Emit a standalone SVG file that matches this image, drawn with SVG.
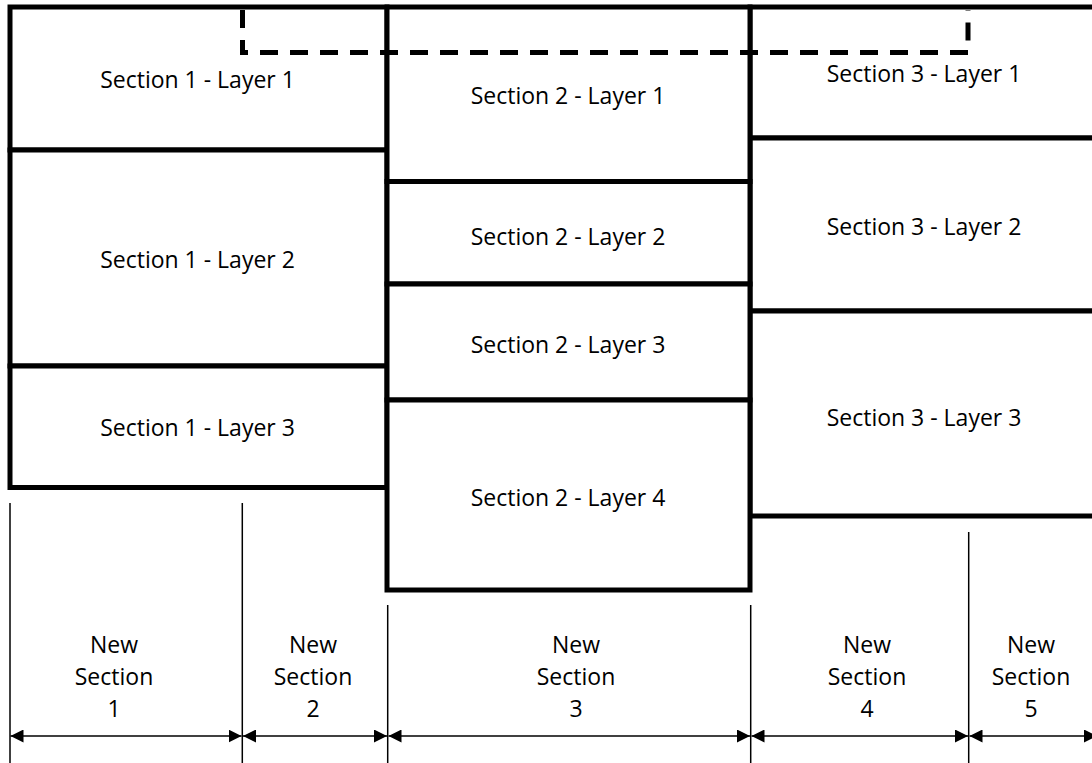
<svg xmlns="http://www.w3.org/2000/svg" width="1092" height="763" viewBox="0 0 1092 763">
  <defs>
    <marker id="arrowHead" viewBox="0 0 13 13" refX="13" refY="6.5" markerWidth="13" markerHeight="13" markerUnits="userSpaceOnUse" orient="auto-start-reverse">
      <path d="M0,0 L13,6.5 L0,13 Z" fill="#000"/>
    </marker>
    <style>
      .layer { fill: #fff; stroke: #000; stroke-width: 5; }
      .label { font-family: "Open Sans", "Liberation Sans", sans-serif; font-size: 23px; fill: #000; text-anchor: middle; }
      .extent { fill: none; stroke: #000; stroke-width: 5; stroke-dasharray: 18 12; }
      .tick { stroke: #000; stroke-width: 1.5; }
      .dim { stroke: #000; stroke-width: 1.5; marker-start: url(#arrowHead); marker-end: url(#arrowHead); }
    </style>
  </defs>
  <rect width="1092" height="763" fill="#fff"/>

  <!-- Section 1 -->
  <g id="s1-layer1"><rect class="layer" x="10" y="7" width="377" height="143"/><text class="label" x="197.5" y="88">Section 1 - Layer 1</text></g>
  <g id="s1-layer2"><rect class="layer" x="10" y="150" width="377" height="216"/><text class="label" x="197.5" y="268">Section 1 - Layer 2</text></g>
  <g id="s1-layer3"><rect class="layer" x="10" y="366" width="377" height="121.5"/><text class="label" x="197.5" y="436">Section 1 - Layer 3</text></g>

  <!-- Section 3 (runs past the right edge) -->
  <g id="s3-layer1"><rect class="layer" x="750" y="7" width="360" height="131"/><text class="label" x="924" y="82">Section 3 - Layer 1</text></g>
  <g id="s3-layer2"><rect class="layer" x="750" y="138" width="360" height="173"/><text class="label" x="924" y="235">Section 3 - Layer 2</text></g>
  <g id="s3-layer3"><rect class="layer" x="750" y="311" width="360" height="205"/><text class="label" x="924" y="426">Section 3 - Layer 3</text></g>

  <!-- Section 2 -->
  <g id="s2-layer1"><rect class="layer" x="387" y="7" width="363" height="174.5"/><text class="label" x="568" y="104">Section 2 - Layer 1</text></g>
  <g id="s2-layer2"><rect class="layer" x="387" y="181.5" width="363" height="102.5"/><text class="label" x="568" y="245">Section 2 - Layer 2</text></g>
  <g id="s2-layer3"><rect class="layer" x="387" y="284" width="363" height="116"/><text class="label" x="568" y="353">Section 2 - Layer 3</text></g>
  <g id="s2-layer4"><rect class="layer" x="387" y="400" width="363" height="190"/><text class="label" x="568" y="506">Section 2 - Layer 4</text></g>

  <!-- dashed extent across the top -->
  <g id="dashed-extent"><path class="extent" d="M242.5,10 V52.5 H968 V10"/></g>

  <!-- dimension ticks and arrows -->
  <g id="connectors">
    <line class="tick" x1="10" y1="503" x2="10" y2="763"/>
    <line class="tick" x1="242.3" y1="503" x2="242.3" y2="763"/>
    <line class="tick" x1="387.7" y1="605" x2="387.7" y2="763"/>
    <line class="tick" x1="750.7" y1="605" x2="750.7" y2="763"/>
    <line class="tick" x1="968.7" y1="532" x2="968.7" y2="763"/>
    <line class="dim" x1="10.5" y1="736" x2="241.5" y2="736"/>
    <line class="dim" x1="243" y1="736" x2="387" y2="736"/>
    <line class="dim" x1="388.5" y1="736" x2="750" y2="736"/>
    <line class="dim" x1="751.5" y1="736" x2="968" y2="736"/>
    <line class="dim" x1="969.5" y1="736" x2="1097" y2="736"/>
  </g>

  <!-- new section labels -->
  <g id="ns1"><text class="label" x="114" y="653">New</text><text class="label" x="114" y="685">Section</text><text class="label" x="114" y="717">1</text></g>
  <g id="ns2"><text class="label" x="313" y="653">New</text><text class="label" x="313" y="685">Section</text><text class="label" x="313" y="717">2</text></g>
  <g id="ns3"><text class="label" x="576" y="653">New</text><text class="label" x="576" y="685">Section</text><text class="label" x="576" y="717">3</text></g>
  <g id="ns4"><text class="label" x="867" y="653">New</text><text class="label" x="867" y="685">Section</text><text class="label" x="867" y="717">4</text></g>
  <g id="ns5"><text class="label" x="1031" y="653">New</text><text class="label" x="1031" y="685">Section</text><text class="label" x="1031" y="717">5</text></g>
</svg>
